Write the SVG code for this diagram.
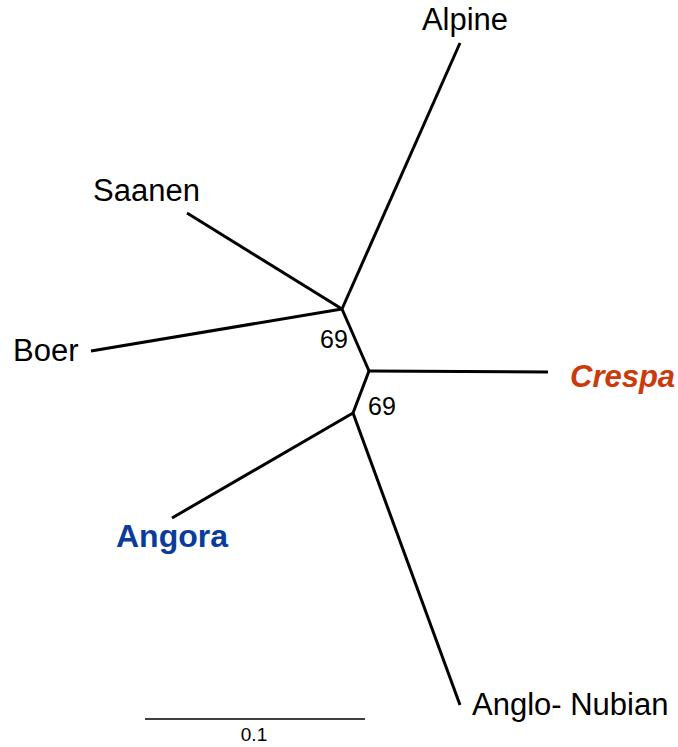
<svg xmlns="http://www.w3.org/2000/svg" width="678" height="747" viewBox="0 0 678 747">
<style>
.br{stroke:#000;stroke-width:3;fill:none;stroke-linecap:butt;stroke-linejoin:miter}
.lbl{font-family:"Liberation Sans",Arial,sans-serif;font-size:31px;fill:#000}
.bs{font-family:"Liberation Sans",Arial,sans-serif;font-size:25px;fill:#000}
</style>
<rect width="678" height="747" fill="#fff"/>
<g id="connectors">
<polyline class="br" points="460,43 342,309"/>
<polyline class="br" points="187,213 342,309"/>
<polyline class="br" points="91,351 342,309"/>
<polyline class="br" points="342,309 369,371"/>
<polyline class="br" points="369,371 548,372"/>
<polyline class="br" points="369,371 353,413"/>
<polyline class="br" points="353,413 172,518"/>
<polyline class="br" points="353,413 460,705"/>
</g>
<g id="node-alpine"><text class="lbl" x="465" y="30" text-anchor="middle">Alpine</text></g>
<g id="node-saanen"><text class="lbl" x="93" y="201">Saanen</text></g>
<g id="node-boer"><text class="lbl" x="13" y="361">Boer</text></g>
<g id="node-crespa"><text class="lbl" x="570" y="387" style="font-weight:bold;font-style:italic;fill:#cc3a0c">Crespa</text></g>
<g id="node-angora"><text class="lbl" x="116" y="547" style="font-weight:bold;fill:#0a3c9c;font-size:32px">Angora</text></g>
<g id="node-anglo-nubian"><text class="lbl" x="472" y="715">Anglo- Nubian</text></g>
<g id="bootstrap-1"><text class="bs" x="320" y="348">69</text></g>
<g id="bootstrap-2"><text class="bs" x="368" y="415">69</text></g>
<g id="scale-bar">
<line x1="145" y1="719" x2="365" y2="719" stroke="#000" stroke-width="1.5"/>
<text x="254" y="741" text-anchor="middle" style="font-family:'Liberation Sans',Arial,sans-serif;font-size:19px;fill:#000">0.1</text>
</g>
</svg>
